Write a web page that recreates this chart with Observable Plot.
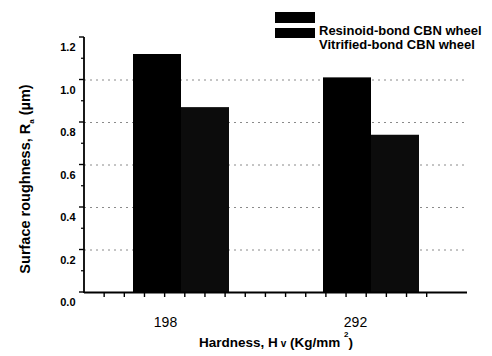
<!DOCTYPE html>
<html><head><meta charset="utf-8">
<script src="https://cdn.jsdelivr.net/npm/d3@7"></script>
<script src="https://cdn.jsdelivr.net/npm/@observablehq/plot@0.6"></script>
<style>
body{margin:0;background:#fff;font-family:"Liberation Sans",Arial,sans-serif;}
#wrap{position:relative;width:492px;height:356px;}
.sw{position:absolute;background:#000;}
.lt{position:absolute;font-weight:bold;font-size:13px;white-space:nowrap;line-height:14px;color:#000;}
</style></head><body><div id="wrap"></div>
<script>
const hardness = ["198", "292"];
const series = ["Resinoid-bond CBN wheel", "Vitrified-bond CBN wheel"];
const resinoid = [1.12, 1.01];
const vitrified = [0.87, 0.74];
const yTicks = [0, 0.2, 0.4, 0.6, 0.8, 1.0, 1.2];
const yMinor = [0.1, 0.3, 0.5, 0.7, 0.9, 1.1];
const gridValues = [0.2, 0.4, 0.6, 0.8, 1.0];
const xTitle = "Hardness, Hv (Kg/mm²)";
const yTitle = "Surface roughness, Ra (µm)";

const rows = hardness.flatMap((h, i) => [
  {hardness: h, series: series[0], value: resinoid[i]},
  {hardness: h, series: series[1], value: vitrified[i]}
]);

const chart = Plot.plot({
  width: 492, height: 356,
  marginLeft: 84, marginRight: 25, marginTop: 37, marginBottom: 64,
  style: {fontFamily: '"Liberation Sans", Arial, sans-serif', background: "#fff", overflow: "visible", color: "#000"},
  x: {type: "band", domain: hardness, paddingInner: 0.495, paddingOuter: 0.2526, axis: null},
  y: {domain: [0, 1.2], axis: null},
  marks: [
    Plot.ruleY(gridValues, {y: d => d, stroke: "#8a8a8a", strokeDasharray: "2,4"}),
    Plot.barY(rows.filter(d => d.series === series[0]), {x: "hardness", y: "value", fill: "#000", insetRight: 48}),
    Plot.barY(rows.filter(d => d.series === series[1]), {x: "hardness", y: "value", fill: "#0c0c0c", insetLeft: 48}),
    Plot.ruleY([0], {y: d => d, stroke: "#000", strokeWidth: 1.8}),
    Plot.text(yTicks, {y: d => d, text: d => d.toFixed(1), frameAnchor: "left", textAnchor: "end", dx: -9, dy: 10, fontSize: 11, fontWeight: "bold"}),
    Plot.text(hardness, {x: d => d, text: d => d, frameAnchor: "bottom", dx: -16, dy: 34, fontSize: 14}),
    Plot.text([xTitle], {text: d => d, frameAnchor: "bottom", dy: 54, fontSize: 13.5, fontWeight: "bold"}),
    Plot.text([yTitle], {text: d => d, frameAnchor: "left", textAnchor: "middle", rotate: -90, dx: -59, dy: 14, fontSize: 14.5, fontWeight: "bold"})
  ]
});

// axis lines and tick marks from the plot's own scales
const ys = chart.scale("y"), xs = chart.scale("x");
const [x0, x1] = xs.range;
const yb = ys.apply(0), yt = ys.apply(1.2);
const svg = d3.select(chart);
const g = svg.append("g").attr("stroke", "#000").attr("fill", "none");
g.append("line").attr("x1", x0).attr("x2", x0).attr("y1", yt).attr("y2", yb + 1).attr("stroke-width", 1.8);
yTicks.forEach(v => g.append("line").attr("x1", x0 - 5).attr("x2", x0).attr("y1", ys.apply(v)).attr("y2", ys.apply(v)).attr("stroke-width", 1.4));
yMinor.forEach(v => g.append("line").attr("x1", x0 - 3).attr("x2", x0).attr("y1", ys.apply(v)).attr("y2", ys.apply(v)).attr("stroke-width", 1.2));
const nDiv = 19;
for (let k = 1; k <= 17; k++) {
  const x = x0 + k * (x1 - x0) / nDiv;
  g.append("line").attr("x1", x).attr("x2", x).attr("y1", yb).attr("y2", yb + 5).attr("stroke-width", 1.4);
}

// rich formatting of axis titles (subscripts / superscripts)
svg.selectAll("text").filter(function() { return this.textContent === xTitle; }).each(function() {
  const t = d3.select(this); t.text(null);
  t.append("tspan").text("Hardness, H");
  t.append("tspan").attr("font-size", 10).text(" v");
  t.append("tspan").text(" (Kg/mm ");
  t.append("tspan").attr("font-size", 8).attr("dy", -10).text("2");
  t.append("tspan").attr("dy", 10).text(")");
});
svg.selectAll("text").filter(function() { return this.textContent === yTitle; }).each(function() {
  const t = d3.select(this); t.text(null);
  t.append("tspan").text("Surface roughness, R");
  t.append("tspan").attr("font-size", 8).attr("dy", 4).text("a");
  t.append("tspan").attr("dy", -4).text(" (µm)");
});

const wrap = document.getElementById("wrap");
wrap.appendChild(chart);

// legend
const legend = document.createElement("div");
legend.style.cssText = "position:absolute;left:0;top:0;";
legend.innerHTML =
  `<div class="sw" style="left:275px;top:12px;width:40px;height:11px"></div>` +
  `<div class="sw" style="left:275px;top:28px;width:40px;height:10px"></div>` +
  `<div class="lt" style="left:319px;top:24px">${series[0]}</div>` +
  `<div class="lt" style="left:319px;top:38px">${series[1]}</div>`;
wrap.appendChild(legend);
</script></body></html>
